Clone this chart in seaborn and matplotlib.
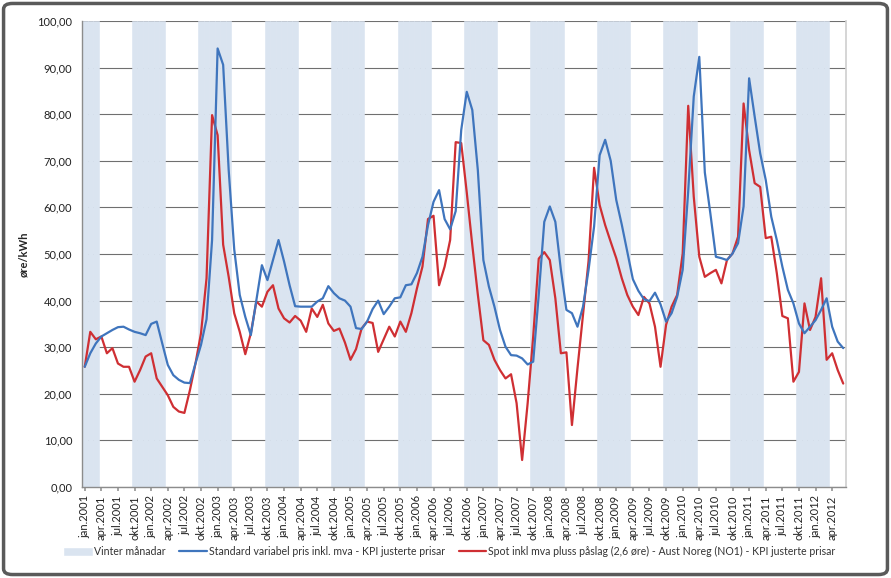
import matplotlib
matplotlib.use("Agg")
import matplotlib.pyplot as plt
from matplotlib.patches import FancyBboxPatch
from matplotlib.ticker import FuncFormatter
import seaborn as sns
import numpy as np
import pandas as pd

# monthly values jan.2001 - jun.2012, øre/kWh
start_year = 2001
n_months = 138
month_names = ["jan", "feb", "mar", "apr", "mai", "jun",
               "jul", "aug", "sep", "okt", "nov", "des"]
winter_months = [10, 11, 12, 1, 2, 3]

standard_pris = [
    25.8, 28.7, 30.8, 32.3, 33.0, 33.7, 34.3, 34.4, 33.8, 33.3, 33.0, 32.6,
    35.0, 35.5, 30.8, 26.2, 24.0, 23.0, 22.4, 22.3, 26.5, 30.5, 36.0, 53.0,
    94.1, 90.6, 68.0, 51.0, 41.2, 36.5, 32.6, 40.1, 47.6, 44.4, 48.7, 53.0,
    48.4, 43.3, 38.8, 38.7, 38.7, 38.7, 39.8, 40.5, 43.1, 41.6, 40.5, 40.0,
    38.7, 34.1, 33.9, 35.5, 38.2, 40.0, 37.1, 38.7, 40.5, 40.7, 43.3, 43.5,
    45.9, 49.4, 56.2, 61.2, 63.7, 57.5, 55.3, 59.2, 76.6, 84.8, 80.9, 68.0,
    48.7, 43.0, 38.7, 33.7, 30.1, 28.3, 28.2, 27.6, 26.3, 26.9, 41.2, 56.9,
    60.2, 56.9, 46.6, 38.0, 37.3, 34.4, 38.7, 46.6, 55.9, 71.2, 74.5, 70.0,
    61.6, 56.3, 50.5, 44.6, 42.1, 40.3, 39.9, 41.7, 39.2, 35.5, 37.3, 40.8,
    46.6, 63.5, 83.8, 92.3, 67.5, 58.7, 49.4, 49.1, 48.7, 50.1, 52.3, 60.2,
    87.7, 79.5, 71.6, 65.9, 58.0, 53.0, 47.3, 42.3, 39.4, 35.1, 33.0, 34.4,
    35.8, 38.0, 40.5, 34.4, 31.2, 29.8,
]

spot_pris = [
    25.8, 33.3, 31.7, 32.3, 28.7, 29.8, 26.5, 25.8, 25.8, 22.6, 25.1, 28.0,
    28.7, 23.3, 21.5, 19.7, 17.2, 16.2, 15.9, 20.8, 26.5, 33.0, 44.8, 79.8,
    75.5, 52.0, 45.1, 37.3, 33.3, 28.5, 33.0, 39.8, 38.7, 41.9, 43.3, 38.3,
    36.2, 35.3, 36.7, 35.7, 33.3, 38.3, 36.5, 39.1, 35.1, 33.5, 34.0, 31.0,
    27.3, 29.6, 34.0, 35.5, 35.2, 29.0, 31.7, 34.4, 32.3, 35.5, 33.3, 37.3,
    42.6, 47.3, 57.5, 58.2, 43.3, 47.3, 53.0, 74.0, 73.8, 63.2, 51.9, 41.3,
    31.5, 30.5, 27.3, 25.1, 23.3, 24.2, 18.0, 5.8, 18.0, 32.3, 49.0, 50.4,
    48.7, 40.5, 28.7, 28.9, 13.3, 25.5, 37.0, 48.5, 68.5, 60.5, 56.2, 52.6,
    49.1, 44.8, 41.2, 38.7, 36.9, 40.8, 39.4, 34.4, 25.8, 34.8, 38.7, 41.2,
    50.1, 81.8, 62.3, 49.4, 45.1, 45.9, 46.6, 43.7, 48.7, 50.1, 53.7, 82.3,
    72.3, 65.2, 64.4, 53.4, 53.7, 45.9, 36.7, 36.2, 22.6, 24.7, 39.4, 33.7,
    36.5, 44.8, 27.3, 28.7, 25.1, 22.2,
]

label_std = "Standard variabel pris inkl. mva - KPI justerte prisar"
label_spot = "Spot inkl mva pluss påslag (2,6 øre) - Aust Noreg (NO1) - KPI justerte prisar"
label_winter = "Vinter månadar"

df = pd.DataFrame({
    "idx": np.arange(n_months),
    "month": [(i % 12) + 1 for i in range(n_months)],
    "year": [start_year + i // 12 for i in range(n_months)],
    "standard": standard_pris,
    "spot": spot_pris,
})
df["label"] = [f"{month_names[m - 1]}.{y}" for m, y in zip(df["month"], df["year"])]
winter = df[df["month"].isin(winter_months)]

sns.set_theme(style="white")
plt.rcParams["font.family"] = ["Lato", "DejaVu Sans"]

fig = plt.figure(figsize=(8.91, 5.78), dpi=100)
ax = fig.add_axes([0.092, 0.1574, 0.8575, 0.8063])

band_col = "#dae4f0"
bars = ax.bar(winter["idx"], 100, width=1.0, color=band_col, edgecolor=band_col,
              linewidth=0.4, zorder=2, label=label_winter)

sns.lineplot(data=df, x="idx", y="standard", ax=ax, color="#3f75bd",
             linewidth=1.6, zorder=4, label=label_std)
sns.lineplot(data=df, x="idx", y="spot", ax=ax, color="#cf2f33",
             linewidth=1.6, zorder=3, label=label_spot)

ax.set_xlim(-0.5, n_months - 0.5)
ax.set_ylim(0, 100)
ax.set_yticks(np.arange(0, 101, 10))
ax.yaxis.set_major_formatter(FuncFormatter(lambda v, p: f"{v:.2f}".replace(".", ",")))
ax.yaxis.grid(True, color="#6f6f6f", linewidth=0.8, zorder=1)
ax.set_axisbelow(True)

qtr = df[df["month"].isin([1, 4, 7, 10]) & (df["idx"] <= 135)]
ax.set_xticks(qtr["idx"])
ax.set_xticklabels(qtr["label"], rotation=90, fontsize=8, color="#222222")
ax.tick_params(axis="y", labelsize=8, colors="#222222", length=0, pad=7)
ax.tick_params(axis="x", length=3, color="#999999", pad=3, bottom=True)

ax.set_xlabel("")
ax.set_ylabel("øre/kWh", fontsize=8, fontweight="bold", labelpad=6)

for s in ["left", "bottom"]:
    ax.spines[s].set_color("#8c8c8c")
    ax.spines[s].set_linewidth(1.0)
ax.spines["right"].set_color("#d0d0d0")
ax.spines["top"].set_visible(False)

ax.get_legend().remove()
handles, labels = ax.get_legend_handles_labels()
order = [labels.index(label_winter), labels.index(label_std), labels.index(label_spot)]
fig.legend([handles[i] for i in order], [labels[i] for i in order],
           loc="center", bbox_to_anchor=(0.505, 0.046), ncol=3, frameon=False,
           fontsize=7.6, handlelength=2.6, columnspacing=1.3, handletextpad=0.2,
           labelcolor="#333333")

border = FancyBboxPatch((0.004, 0.006), 0.992, 0.988, boxstyle="round,pad=0,rounding_size=0.01",
                        transform=fig.transFigure, fill=False, edgecolor="#5a5a5a",
                        linewidth=2.5)
fig.patches.append(border)

fig.savefig("out.png", dpi=100)
